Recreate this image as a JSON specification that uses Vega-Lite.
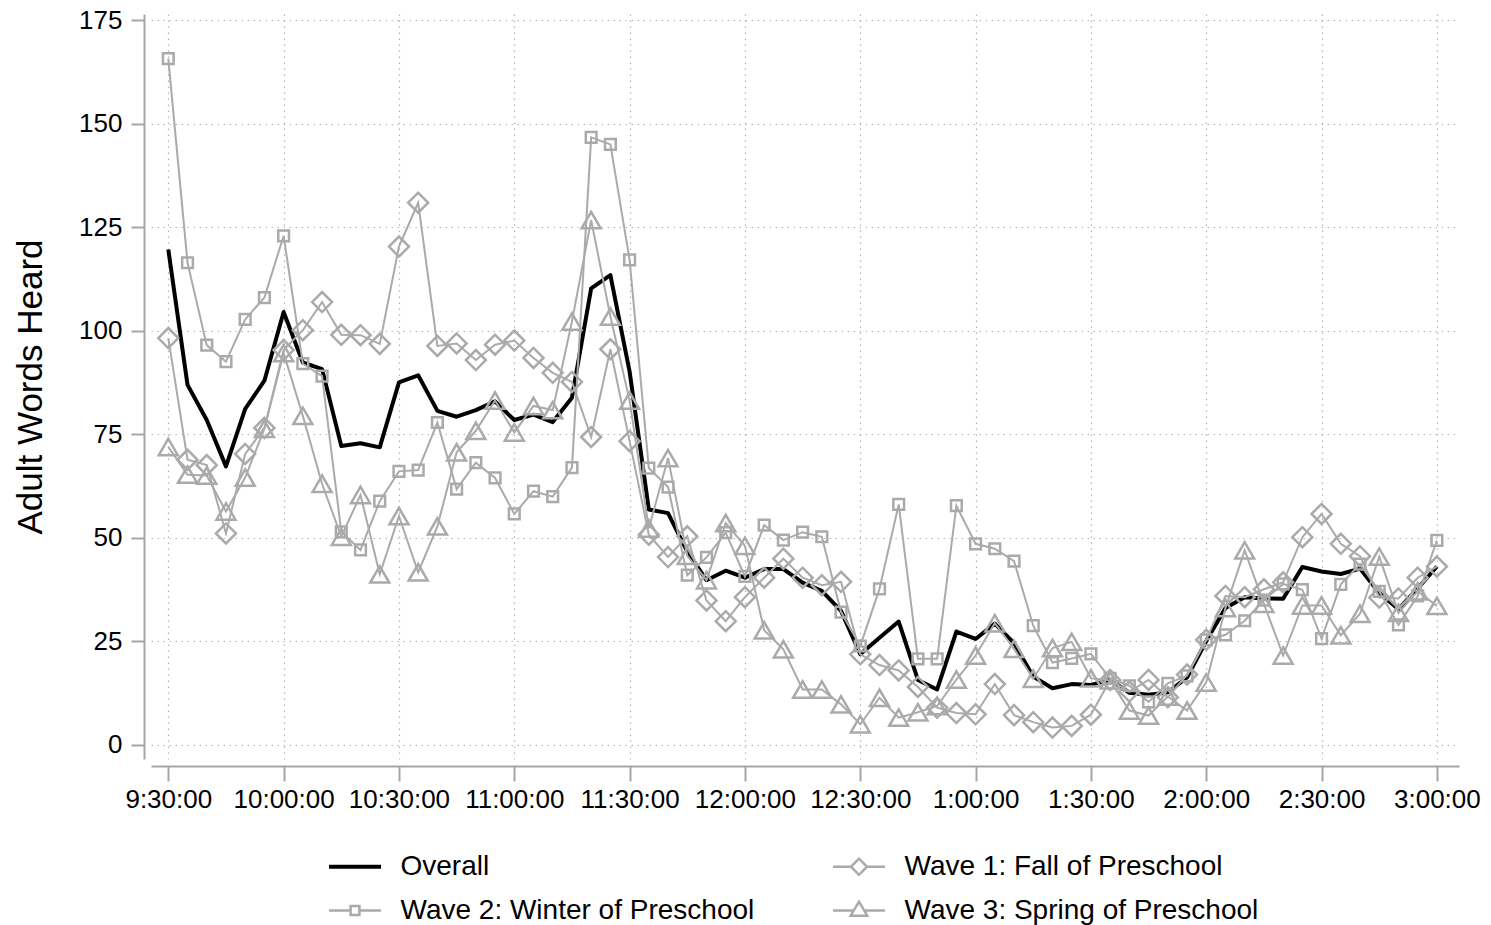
{
  "$schema": "https://vega.github.io/schema/vega-lite/v6.json",
  "width": 1308,
  "height": 745,
  "padding": {"left": 13, "top": 7, "right": 5, "bottom": 5},
  "background": "white",
  "config": {
    "font": "Liberation Sans",
    "view": {"stroke": null}
  },
  "data": {
    "values": [
      {"t": "2000-01-01T09:30", "Overall": 119.6, "Wave 1: Fall of Preschool": 98.2, "Wave 2: Winter of Preschool": 165.7, "Wave 3: Spring of Preschool": 71.9},
      {"t": "2000-01-01T09:35", "Overall": 86.9, "Wave 1: Fall of Preschool": 68.8, "Wave 2: Winter of Preschool": 116.4, "Wave 3: Spring of Preschool": 65.2},
      {"t": "2000-01-01T09:40", "Overall": 78.4, "Wave 1: Fall of Preschool": 67.5, "Wave 2: Winter of Preschool": 96.5, "Wave 3: Spring of Preschool": 65.0},
      {"t": "2000-01-01T09:45", "Overall": 67.2, "Wave 1: Fall of Preschool": 51.0, "Wave 2: Winter of Preschool": 92.5, "Wave 3: Spring of Preschool": 56.3},
      {"t": "2000-01-01T09:50", "Overall": 81.1, "Wave 1: Fall of Preschool": 70.2, "Wave 2: Winter of Preschool": 102.7, "Wave 3: Spring of Preschool": 64.5},
      {"t": "2000-01-01T09:55", "Overall": 87.9, "Wave 1: Fall of Preschool": 76.5, "Wave 2: Winter of Preschool": 108.0, "Wave 3: Spring of Preschool": 76.3},
      {"t": "2000-01-01T10:00", "Overall": 104.5, "Wave 1: Fall of Preschool": 95.3, "Wave 2: Winter of Preschool": 122.9, "Wave 3: Spring of Preschool": 94.6},
      {"t": "2000-01-01T10:05", "Overall": 92.3, "Wave 1: Fall of Preschool": 100.1, "Wave 2: Winter of Preschool": 92.0, "Wave 3: Spring of Preschool": 79.4},
      {"t": "2000-01-01T10:10", "Overall": 90.7, "Wave 1: Fall of Preschool": 106.9, "Wave 2: Winter of Preschool": 89.0, "Wave 3: Spring of Preschool": 63.0},
      {"t": "2000-01-01T10:15", "Overall": 72.1, "Wave 1: Fall of Preschool": 99.0, "Wave 2: Winter of Preschool": 51.4, "Wave 3: Spring of Preschool": 50.2},
      {"t": "2000-01-01T10:20", "Overall": 72.8, "Wave 1: Fall of Preschool": 98.9, "Wave 2: Winter of Preschool": 47.0, "Wave 3: Spring of Preschool": 60.3},
      {"t": "2000-01-01T10:25", "Overall": 71.8, "Wave 1: Fall of Preschool": 96.8, "Wave 2: Winter of Preschool": 58.8, "Wave 3: Spring of Preschool": 41.1},
      {"t": "2000-01-01T10:30", "Overall": 87.5, "Wave 1: Fall of Preschool": 120.3, "Wave 2: Winter of Preschool": 66.0, "Wave 3: Spring of Preschool": 55.2},
      {"t": "2000-01-01T10:35", "Overall": 89.2, "Wave 1: Fall of Preschool": 130.9, "Wave 2: Winter of Preschool": 66.3, "Wave 3: Spring of Preschool": 41.6},
      {"t": "2000-01-01T10:40", "Overall": 80.6, "Wave 1: Fall of Preschool": 96.3, "Wave 2: Winter of Preschool": 77.8, "Wave 3: Spring of Preschool": 52.7},
      {"t": "2000-01-01T10:45", "Overall": 79.2, "Wave 1: Fall of Preschool": 96.9, "Wave 2: Winter of Preschool": 61.7, "Wave 3: Spring of Preschool": 70.6},
      {"t": "2000-01-01T10:50", "Overall": 80.8, "Wave 1: Fall of Preschool": 92.9, "Wave 2: Winter of Preschool": 68.1, "Wave 3: Spring of Preschool": 75.8},
      {"t": "2000-01-01T10:55", "Overall": 82.9, "Wave 1: Fall of Preschool": 96.6, "Wave 2: Winter of Preschool": 64.4, "Wave 3: Spring of Preschool": 83.1},
      {"t": "2000-01-01T11:00", "Overall": 78.4, "Wave 1: Fall of Preschool": 97.6, "Wave 2: Winter of Preschool": 55.7, "Wave 3: Spring of Preschool": 75.4},
      {"t": "2000-01-01T11:05", "Overall": 79.7, "Wave 1: Fall of Preschool": 93.4, "Wave 2: Winter of Preschool": 61.2, "Wave 3: Spring of Preschool": 81.8},
      {"t": "2000-01-01T11:10", "Overall": 77.9, "Wave 1: Fall of Preschool": 89.8, "Wave 2: Winter of Preschool": 59.9, "Wave 3: Spring of Preschool": 80.8},
      {"t": "2000-01-01T11:15", "Overall": 83.8, "Wave 1: Fall of Preschool": 87.6, "Wave 2: Winter of Preschool": 66.9, "Wave 3: Spring of Preschool": 102.2},
      {"t": "2000-01-01T11:20", "Overall": 110.2, "Wave 1: Fall of Preschool": 74.3, "Wave 2: Winter of Preschool": 146.7, "Wave 3: Spring of Preschool": 126.7},
      {"t": "2000-01-01T11:25", "Overall": 113.4, "Wave 1: Fall of Preschool": 95.5, "Wave 2: Winter of Preschool": 145.0, "Wave 3: Spring of Preschool": 103.4},
      {"t": "2000-01-01T11:30", "Overall": 90.1, "Wave 1: Fall of Preschool": 73.3, "Wave 2: Winter of Preschool": 117.1, "Wave 3: Spring of Preschool": 83.1},
      {"t": "2000-01-01T11:35", "Overall": 56.8, "Wave 1: Fall of Preschool": 50.7, "Wave 2: Winter of Preschool": 66.8, "Wave 3: Spring of Preschool": 52.2},
      {"t": "2000-01-01T11:40", "Overall": 55.9, "Wave 1: Fall of Preschool": 45.3, "Wave 2: Winter of Preschool": 62.2, "Wave 3: Spring of Preschool": 69.2},
      {"t": "2000-01-01T11:45", "Overall": 46.6, "Wave 1: Fall of Preschool": 50.3, "Wave 2: Winter of Preschool": 40.9, "Wave 3: Spring of Preschool": 45.6},
      {"t": "2000-01-01T11:50", "Overall": 39.7, "Wave 1: Fall of Preschool": 34.8, "Wave 2: Winter of Preschool": 45.2, "Wave 3: Spring of Preschool": 39.7},
      {"t": "2000-01-01T11:55", "Overall": 42.0, "Wave 1: Fall of Preschool": 29.8, "Wave 2: Winter of Preschool": 51.2, "Wave 3: Spring of Preschool": 53.5},
      {"t": "2000-01-01T12:00", "Overall": 40.3, "Wave 1: Fall of Preschool": 35.6, "Wave 2: Winter of Preschool": 40.6, "Wave 3: Spring of Preschool": 48.0},
      {"t": "2000-01-01T12:05", "Overall": 42.4, "Wave 1: Fall of Preschool": 40.3, "Wave 2: Winter of Preschool": 53.0, "Wave 3: Spring of Preschool": 27.6},
      {"t": "2000-01-01T12:10", "Overall": 42.4, "Wave 1: Fall of Preschool": 44.9, "Wave 2: Winter of Preschool": 49.4, "Wave 3: Spring of Preschool": 23.0},
      {"t": "2000-01-01T12:15", "Overall": 39.1, "Wave 1: Fall of Preschool": 40.3, "Wave 2: Winter of Preschool": 51.3, "Wave 3: Spring of Preschool": 13.3},
      {"t": "2000-01-01T12:20", "Overall": 37.1, "Wave 1: Fall of Preschool": 38.5, "Wave 2: Winter of Preschool": 50.2, "Wave 3: Spring of Preschool": 13.3},
      {"t": "2000-01-01T12:25", "Overall": 32.3, "Wave 1: Fall of Preschool": 39.3, "Wave 2: Winter of Preschool": 32.0, "Wave 3: Spring of Preschool": 9.7},
      {"t": "2000-01-01T12:30", "Overall": 21.8, "Wave 1: Fall of Preschool": 21.8, "Wave 2: Winter of Preschool": 23.8, "Wave 3: Spring of Preschool": 4.9},
      {"t": "2000-01-01T12:35", "Overall": 25.8, "Wave 1: Fall of Preschool": 19.2, "Wave 2: Winter of Preschool": 37.6, "Wave 3: Spring of Preschool": 11.3},
      {"t": "2000-01-01T12:40", "Overall": 29.7, "Wave 1: Fall of Preschool": 17.9, "Wave 2: Winter of Preschool": 58.0, "Wave 3: Spring of Preschool": 6.5},
      {"t": "2000-01-01T12:45", "Overall": 15.6, "Wave 1: Fall of Preschool": 13.9, "Wave 2: Winter of Preschool": 20.7, "Wave 3: Spring of Preschool": 7.8},
      {"t": "2000-01-01T12:50", "Overall": 13.3, "Wave 1: Fall of Preschool": 8.9, "Wave 2: Winter of Preschool": 20.7, "Wave 3: Spring of Preschool": 9.3},
      {"t": "2000-01-01T12:55", "Overall": 27.3, "Wave 1: Fall of Preschool": 7.6, "Wave 2: Winter of Preschool": 57.7, "Wave 3: Spring of Preschool": 15.7},
      {"t": "2000-01-01T13:00", "Overall": 25.5, "Wave 1: Fall of Preschool": 7.3, "Wave 2: Winter of Preschool": 48.5, "Wave 3: Spring of Preschool": 21.5},
      {"t": "2000-01-01T13:05", "Overall": 29.2, "Wave 1: Fall of Preschool": 14.6, "Wave 2: Winter of Preschool": 47.3, "Wave 3: Spring of Preschool": 29.3},
      {"t": "2000-01-01T13:10", "Overall": 24.5, "Wave 1: Fall of Preschool": 7.1, "Wave 2: Winter of Preschool": 44.3, "Wave 3: Spring of Preschool": 23.1},
      {"t": "2000-01-01T13:15", "Overall": 16.4, "Wave 1: Fall of Preschool": 5.4, "Wave 2: Winter of Preschool": 28.7, "Wave 3: Spring of Preschool": 15.9},
      {"t": "2000-01-01T13:20", "Overall": 13.6, "Wave 1: Fall of Preschool": 4.1, "Wave 2: Winter of Preschool": 19.8, "Wave 3: Spring of Preschool": 23.3},
      {"t": "2000-01-01T13:25", "Overall": 14.6, "Wave 1: Fall of Preschool": 4.5, "Wave 2: Winter of Preschool": 20.8, "Wave 3: Spring of Preschool": 24.8},
      {"t": "2000-01-01T13:30", "Overall": 14.4, "Wave 1: Fall of Preschool": 7.2, "Wave 2: Winter of Preschool": 21.9, "Wave 3: Spring of Preschool": 16.0},
      {"t": "2000-01-01T13:35", "Overall": 15.6, "Wave 1: Fall of Preschool": 15.6, "Wave 2: Winter of Preschool": 16.0, "Wave 3: Spring of Preschool": 15.5},
      {"t": "2000-01-01T13:40", "Overall": 12.5, "Wave 1: Fall of Preschool": 12.8, "Wave 2: Winter of Preschool": 14.2, "Wave 3: Spring of Preschool": 8.2},
      {"t": "2000-01-01T13:45", "Overall": 12.0, "Wave 1: Fall of Preschool": 15.6, "Wave 2: Winter of Preschool": 10.3, "Wave 3: Spring of Preschool": 7.0},
      {"t": "2000-01-01T13:50", "Overall": 12.6, "Wave 1: Fall of Preschool": 11.4, "Wave 2: Winter of Preschool": 14.8, "Wave 3: Spring of Preschool": 11.6},
      {"t": "2000-01-01T13:55", "Overall": 16.2, "Wave 1: Fall of Preschool": 16.9, "Wave 2: Winter of Preschool": 16.6, "Wave 3: Spring of Preschool": 8.2},
      {"t": "2000-01-01T14:00", "Overall": 25.0, "Wave 1: Fall of Preschool": 25.3, "Wave 2: Winter of Preschool": 25.3, "Wave 3: Spring of Preschool": 15.0},
      {"t": "2000-01-01T14:05", "Overall": 33.0, "Wave 1: Fall of Preschool": 35.9, "Wave 2: Winter of Preschool": 26.5, "Wave 3: Spring of Preschool": 33.0},
      {"t": "2000-01-01T14:10", "Overall": 35.6, "Wave 1: Fall of Preschool": 35.6, "Wave 2: Winter of Preschool": 29.9, "Wave 3: Spring of Preschool": 46.9},
      {"t": "2000-01-01T14:15", "Overall": 35.3, "Wave 1: Fall of Preschool": 37.5, "Wave 2: Winter of Preschool": 34.9, "Wave 3: Spring of Preschool": 34.0},
      {"t": "2000-01-01T14:20", "Overall": 35.2, "Wave 1: Fall of Preschool": 39.2, "Wave 2: Winter of Preschool": 38.8, "Wave 3: Spring of Preschool": 21.5},
      {"t": "2000-01-01T14:25", "Overall": 42.9, "Wave 1: Fall of Preschool": 50.1, "Wave 2: Winter of Preschool": 37.4, "Wave 3: Spring of Preschool": 33.6},
      {"t": "2000-01-01T14:30", "Overall": 41.8, "Wave 1: Fall of Preschool": 55.7, "Wave 2: Winter of Preschool": 25.6, "Wave 3: Spring of Preschool": 33.6},
      {"t": "2000-01-01T14:35", "Overall": 41.2, "Wave 1: Fall of Preschool": 48.5, "Wave 2: Winter of Preschool": 38.7, "Wave 3: Spring of Preschool": 26.4},
      {"t": "2000-01-01T14:40", "Overall": 42.5, "Wave 1: Fall of Preschool": 45.5, "Wave 2: Winter of Preschool": 43.6, "Wave 3: Spring of Preschool": 31.6},
      {"t": "2000-01-01T14:45", "Overall": 36.6, "Wave 1: Fall of Preschool": 35.5, "Wave 2: Winter of Preschool": 37.0, "Wave 3: Spring of Preschool": 45.4},
      {"t": "2000-01-01T14:50", "Overall": 32.7, "Wave 1: Fall of Preschool": 35.3, "Wave 2: Winter of Preschool": 28.9, "Wave 3: Spring of Preschool": 31.8},
      {"t": "2000-01-01T14:55", "Overall": 37.7, "Wave 1: Fall of Preschool": 40.3, "Wave 2: Winter of Preschool": 35.9, "Wave 3: Spring of Preschool": 37.0},
      {"t": "2000-01-01T15:00", "Overall": 43.0, "Wave 1: Fall of Preschool": 43.0, "Wave 2: Winter of Preschool": 49.3, "Wave 3: Spring of Preschool": 33.5}
    ]
  },
  "transform": [
    {"fold": ["Overall", "Wave 1: Fall of Preschool", "Wave 2: Winter of Preschool", "Wave 3: Spring of Preschool"], "as": ["series", "words"]}
  ],
  "encoding": {
    "x": {
      "field": "t", "type": "temporal",
      "scale": {"domain": [{"year": 2000, "month": 1, "date": 1, "hours": 9, "minutes": 25, "seconds": 30}, {"year": 2000, "month": 1, "date": 1, "hours": 15, "minutes": 5, "seconds": 45}], "nice": false},
      "axis": {
        "title": null,
        "format": "%-I:%M:%S",
        "values": [
          {"year": 2000, "month": 1, "date": 1, "hours": 9, "minutes": 30},
          {"year": 2000, "month": 1, "date": 1, "hours": 10, "minutes": 0},
          {"year": 2000, "month": 1, "date": 1, "hours": 10, "minutes": 30},
          {"year": 2000, "month": 1, "date": 1, "hours": 11, "minutes": 0},
          {"year": 2000, "month": 1, "date": 1, "hours": 11, "minutes": 30},
          {"year": 2000, "month": 1, "date": 1, "hours": 12, "minutes": 0},
          {"year": 2000, "month": 1, "date": 1, "hours": 12, "minutes": 30},
          {"year": 2000, "month": 1, "date": 1, "hours": 13, "minutes": 0},
          {"year": 2000, "month": 1, "date": 1, "hours": 13, "minutes": 30},
          {"year": 2000, "month": 1, "date": 1, "hours": 14, "minutes": 0},
          {"year": 2000, "month": 1, "date": 1, "hours": 14, "minutes": 30},
          {"year": 2000, "month": 1, "date": 1, "hours": 15, "minutes": 0}
        ],
        "grid": true, "gridDash": [1.5, 4.5], "gridColor": "#b4b4b4", "gridWidth": 1.2,
        "domainColor": "#a6a6a6", "domainWidth": 2,
        "tickColor": "#a6a6a6", "tickWidth": 2, "tickSize": 15,
        "offset": 7,
        "labelFontSize": 26, "labelColor": "#000000", "labelPadding": 5,
        "labelFlush": false, "labelOverlap": false,
        "encode": {"domain": {
          "x": {"value": {"expr": "scale('x', datetime(2000,0,1,9,30))"}},
          "x2": {"value": {"expr": "scale('x', datetime(2000,0,1,15,0))"}}
        }}
      }
    },
    "y": {
      "field": "words", "type": "quantitative",
      "scale": {"domain": [-3.5, 176.5], "nice": false, "zero": false},
      "axis": {
        "title": "Adult Words Heard", "titleFontSize": 35, "titleFontWeight": "normal", "titleColor": "#000000", "titlePadding": 30,
        "values": [0, 25, 50, 75, 100, 125, 150, 175],
        "grid": true, "gridDash": [1.5, 4.5], "gridColor": "#b4b4b4", "gridWidth": 1.2,
        "domainColor": "#a6a6a6", "domainWidth": 2,
        "tickColor": "#a6a6a6", "tickWidth": 2, "tickSize": 13,
        "offset": 7,
        "labelFontSize": 26, "labelColor": "#000000", "labelPadding": 9,
        "encode": {"domain": {
          "y": {"value": {"expr": "scale('y', 175)"}},
          "y2": {"value": {"expr": "scale('y', 0)"}}
        }}
      }
    },
    "color": {
      "field": "series", "type": "nominal",
      "scale": {"domain": ["Overall", "Wave 1: Fall of Preschool", "Wave 2: Winter of Preschool", "Wave 3: Spring of Preschool"], "range": ["#000000", "#aaaaaa", "#aaaaaa", "#aaaaaa"]},
      "legend": {
        "title": null,
        "orient": "none", "legendX": 176.5, "legendY": 825,
        "columns": 2, "direction": "horizontal",
        "padding": 0,
        "labelFontSize": 28, "labelColor": "#000000", "labelLimit": 1000,
        "symbolSize": 2704, "symbolStrokeWidth": 2.5, "symbolOpacity": 1, "symbolFillColor": "#ffffff",
        "labelOffset": 18, "columnPadding": 73, "rowPadding": 2
      }
    }
  },
  "layer": [
    {
      "transform": [{"filter": "datum.series == 'Overall'"}],
      "mark": {"type": "line", "strokeWidth": 4, "strokeJoin": "round"},
      "encoding": {}
    },
    {
      "transform": [{"filter": "datum.series != 'Overall'"}],
      "mark": {"type": "line", "strokeWidth": 2},
      "encoding": {}
    },
    {
      "transform": [{"filter": "datum.series == 'Wave 1: Fall of Preschool'"}],
      "mark": {"type": "point", "shape": "diamond", "filled": false, "color": "#aaaaaa", "strokeWidth": 2.5, "size": 400, "opacity": 1},
      "encoding": {"color": {"value": "#aaaaaa"}}
    },
    {
      "transform": [{"filter": "datum.series == 'Wave 2: Winter of Preschool'"}],
      "mark": {"type": "point", "shape": "square", "filled": false, "color": "#aaaaaa", "strokeWidth": 2.5, "size": 115, "opacity": 1},
      "encoding": {"color": {"value": "#aaaaaa"}}
    },
    {
      "transform": [{"filter": "datum.series == 'Wave 3: Spring of Preschool'"}],
      "mark": {"type": "point", "shape": "triangle-up", "filled": false, "color": "#aaaaaa", "strokeWidth": 2.5, "size": 360, "opacity": 1},
      "encoding": {"color": {"value": "#aaaaaa"}}
    },
    {
      "transform": [{"filter": "false"}],
      "mark": {"type": "point", "filled": false, "fill": "#ffffff", "color": "#aaaaaa", "opacity": 1},
      "encoding": {
        "color": {"value": "#aaaaaa"},
        "shape": {
          "field": "series", "type": "nominal",
          "scale": {"domain": ["Overall", "Wave 1: Fall of Preschool", "Wave 2: Winter of Preschool", "Wave 3: Spring of Preschool"], "range": ["M-1,-0.03H1M-1,0.03H1", "M-1,0H-0.31M0.31,0H1M-0.31,0L0,-0.31L0.31,0L0,0.31Z", "M-1,0H-0.17M0.17,0H1M-0.17,-0.17H0.17V0.17H-0.17Z", "M-1,0H-0.22M0.22,0H1M0,-0.34L-0.32,0.2L0.32,0.2Z"]},
          "legend": {
            "title": null,
            "orient": "none", "legendX": 176.5, "legendY": 825,
            "columns": 2, "direction": "horizontal",
            "padding": 0,
            "labelFontSize": 28, "labelColor": "#000000", "labelLimit": 1000,
            "symbolSize": 2704, "symbolStrokeWidth": 2.5, "symbolOpacity": 1, "symbolFillColor": "#ffffff",
            "labelOffset": 18, "columnPadding": 73, "rowPadding": 2
          }
        }
      }
    }
  ]
}
